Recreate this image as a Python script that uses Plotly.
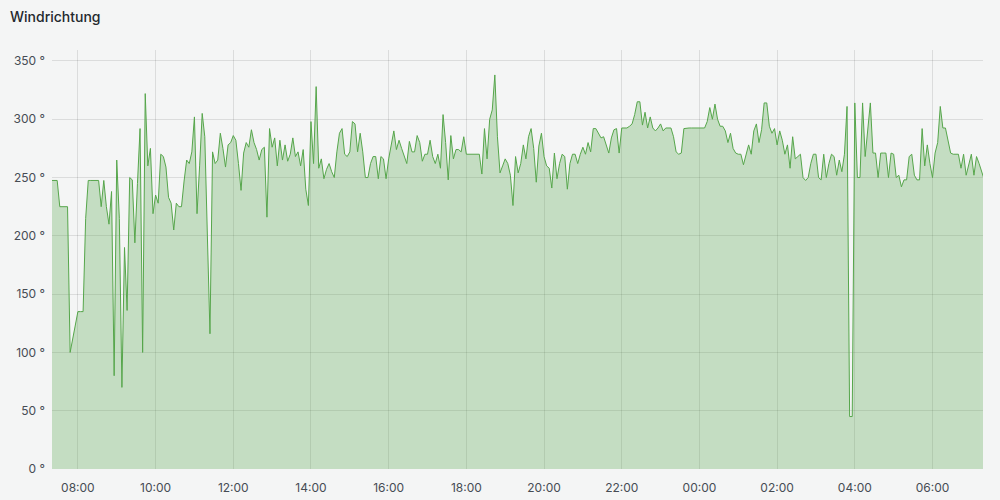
import pandas as pd
import plotly.graph_objects as go

# Wind direction readings, one every 4 minutes, starting 07:20
pre_0720 = [247.5, 247.5, 247.5, 225, 225, 225, 225, 100, 112.5, 125]
h08 = [135, 135, 135, 215, 247.5, 247.5, 247.5, 247.5, 247.5, 225, 247.5, 225, 210, 238, 80]
h09 = [265, 215, 70, 190, 136, 250, 248, 194, 245, 292, 100, 322, 260, 275, 219]
h10 = [235, 228, 270, 268, 259, 233, 228, 205, 228, 225, 225, 247, 265, 262, 272]
h11 = [302, 219, 260, 305, 285, 190, 116, 272, 262, 265, 288, 275, 259, 278, 280]
h12 = [286, 282, 262, 239, 271, 280, 276, 291, 280, 274, 265, 274, 276, 216, 292]
h13 = [276, 284, 260, 282, 265, 278, 264, 270, 284, 268, 272, 260, 274, 240, 226]
h14 = [298, 262, 328, 258, 266, 249, 257, 262, 255, 250, 272, 288, 292, 270, 268]
h15 = [272, 298, 296, 272, 288, 272, 250, 250, 262, 268, 268, 249, 268, 266, 249]
h16 = [266, 280, 290, 274, 282, 275, 268, 262, 281, 272, 272, 286, 280, 264, 270]
h17 = [270, 282, 268, 262, 270, 258, 304, 280, 248, 286, 266, 274, 274, 272, 285]
h18 = [270, 270, 270, 270, 270, 270, 253, 292, 266, 300, 308, 338, 285, 254, 260]
h19 = [266, 262, 252, 226, 268, 254, 262, 278, 266, 285, 292, 275, 246, 277, 288]
h20 = [268, 260, 258, 241, 271, 249, 262, 270, 268, 240, 262, 270, 270, 262, 270]
h21 = [276, 270, 280, 272, 292, 292, 288, 284, 285, 278, 271, 284, 291, 292, 271]
h22 = [292.5, 292.5, 292.5, 294, 296, 304, 315, 315, 295, 306, 292.5, 302, 292.5, 290, 292.5]
h23 = [296, 290, 292.5, 292.5, 292.5, 285, 272, 270, 271, 292, 292.5, 292.5, 292.5, 292.5, 292.5]
h00 = [292.5, 292.5, 292.5, 298, 310, 300, 313, 300, 294, 294, 290, 280, 288, 275, 271]
h01 = [270, 270, 261, 270, 278, 270, 290, 296, 280, 291, 314, 314, 294, 288, 292]
h02 = [278, 290, 282, 270, 278, 258, 285, 266, 268, 270, 250, 247.5, 250, 262, 270]
h03 = [270, 250, 248, 270, 250, 262, 270, 268, 252, 265, 255, 270, 311, 45, 45]
h04 = [314, 250, 250, 314, 268, 291, 314, 271, 271, 250, 271, 271, 271, 250, 271]
h05 = [270, 250, 252, 242, 248, 248, 268, 270, 252, 248, 248, 292, 260, 278, 262]
h06 = [250, 271, 280, 311, 292.5, 292.5, 280, 271, 270, 270, 270, 258, 270, 252, 262]
h07 = [270, 252, 268, 262, 255, 248]

values = (pre_0720 + h08 + h09 + h10 + h11 + h12 + h13 + h14 + h15 + h16 + h17 + h18
          + h19 + h20 + h21 + h22 + h23 + h00 + h01 + h02 + h03 + h04 + h05 + h06 + h07)
times = pd.date_range("2024-05-14 07:20", periods=len(values), freq="4min")

FONT = "Inter, 'Open Sans', sans-serif"

fig = go.Figure()
fig.add_trace(go.Scatter(
    x=times, y=values, mode="lines",
    line=dict(color="#56a64b", width=1),
    fill="tozeroy", fillcolor="rgba(86,166,75,0.3)",
    hoverinfo="skip", showlegend=False,
))

fig.update_layout(
    width=1000, height=500,
    margin=dict(l=52, r=17, t=50, b=31),
    paper_bgcolor="#f4f5f5", plot_bgcolor="#f4f5f5",
    font=dict(family=FONT, size=12, color="#464c54"),
    title=dict(text="Windrichtung", x=0.01, xref="container", xanchor="left",
               y=1 - 17 / 500, yref="container", yanchor="middle",
               font=dict(family=FONT, size=14, color="#24292e", weight=500)),
    xaxis=dict(
        type="date",
        range=["2024-05-14 07:20", "2024-05-15 07:18"],
        tickformat="%H:%M", dtick=7200000, tick0="2024-05-14 00:00",
        showgrid=True, gridcolor="rgba(0,0,0,0.1)", gridwidth=1,
        zeroline=False, showline=False, ticks="",
        ticklabelstandoff=10, automargin=False,
    ),
    yaxis=dict(
        range=[0, 359.4], dtick=50, tick0=0, ticksuffix=" °",
        showgrid=True, gridcolor="rgba(0,0,0,0.1)", gridwidth=1,
        zeroline=False, showline=False, ticks="",
        ticklabelstandoff=6, automargin=False,
    ),
)

fig.write_html("out.html", config={"displayModeBar": False},
               post_script="document.body.style.margin='0';document.body.style.background='#f4f5f5';")
